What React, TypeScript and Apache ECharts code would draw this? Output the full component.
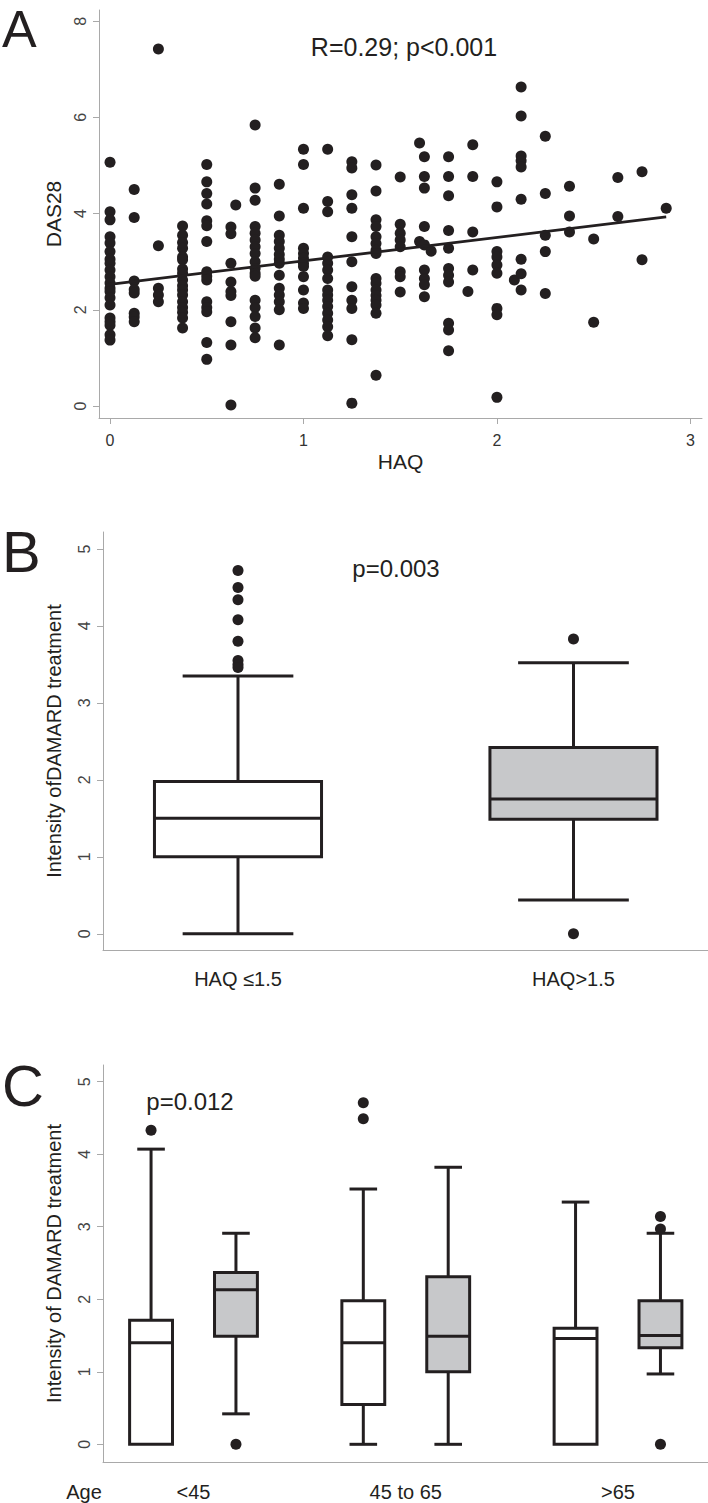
import React, { useEffect, useRef } from "react";
import * as echarts from "echarts";

const INK = "#231f20";
const AXIS_GRAY = "#a9a9a9";
const BOX_GRAY = "#c7c8ca";
const FONT = "'Liberation Sans', Arial, Helvetica, sans-serif";

// ---------- Panel A: DAS28 vs HAQ ----------
const haqColumns: number[] = [
  0, 0.125, 0.25, 0.375, 0.5, 0.625, 0.65, 0.75, 0.875, 1, 1.125, 1.25, 1.375, 1.5, 1.6,
  1.625, 1.66, 1.75, 1.85, 1.875, 2, 2.09, 2.125, 2.25, 2.375, 2.5, 2.625, 2.75, 2.875,
];
const das28Columns: number[][] = [
  [5.07, 4.04, 3.87, 3.52, 3.39, 3.21, 3.05, 2.97, 2.83, 2.69, 2.56, 2.45, 2.38, 2.25, 2.1, 1.83, 1.75, 1.68, 1.48, 1.37],
  [4.5, 3.92, 2.6, 2.42, 2.35, 1.93, 1.85, 1.75],
  [7.42, 3.33, 2.45, 2.31, 2.17],
  [3.74, 3.55, 3.4, 3.28, 3.1, 3.04, 2.85, 2.76, 2.62, 2.5, 2.41, 2.31, 2.17, 2.05, 1.95, 1.83, 1.62],
  [5.02, 4.66, 4.42, 4.2, 3.85, 3.75, 3.42, 2.79, 2.7, 2.62, 2.17, 2.05, 1.96, 1.32, 0.97],
  [3.72, 3.58, 2.97, 2.58, 2.38, 2.3, 1.75, 1.27, 0.02],
  [4.18],
  [5.84, 4.53, 4.28, 3.73, 3.59, 3.45, 3.31, 3.17, 3.0, 2.86, 2.76, 2.7, 2.2, 2.05, 1.86, 1.62, 1.42],
  [4.61, 3.95, 3.55, 3.42, 3.28, 3.15, 3.05, 2.97, 2.72, 2.45, 2.31, 2.17, 2.0, 1.27],
  [5.34, 5.02, 4.11, 3.28, 3.17, 3.07, 2.97, 2.9, 2.69, 2.41, 2.14, 2.03],
  [5.34, 4.25, 4.04, 3.1, 2.97, 2.83, 2.65, 2.41, 2.31, 2.2, 2.07, 1.93, 1.79, 1.65, 1.46],
  [5.08, 4.95, 4.39, 4.11, 3.52, 3.0, 2.48, 2.2, 2.03, 1.38, 0.06],
  [5.01, 4.47, 3.87, 3.73, 3.52, 3.38, 3.24, 3.17, 2.65, 2.55, 2.41, 2.3, 2.2, 2.1, 1.93, 0.64],
  [4.76, 3.78, 3.59, 3.45, 3.31, 2.79, 2.69, 2.37],
  [5.47, 3.42],
  [5.18, 4.77, 4.53, 3.73, 3.35, 2.83, 2.65, 2.52, 2.27],
  [3.22],
  [5.18, 4.77, 4.37, 3.65, 3.28, 2.86, 2.72, 2.58, 1.72, 1.58, 1.15],
  [2.38],
  [5.43, 4.77, 3.62, 2.83],
  [4.66, 4.14, 3.21, 3.1, 2.93, 2.76, 2.03, 1.9, 0.18],
  [2.62],
  [6.63, 6.03, 5.2, 5.1, 4.97, 4.3, 3.05, 2.75, 2.41],
  [5.61, 4.42, 3.55, 3.21, 2.34],
  [4.57, 3.95, 3.62],
  [3.47, 1.74],
  [4.75, 3.94],
  [4.87, 3.04],
  [4.11],
];
const fitLine: number[][] = [
  [0, 2.53],
  [2.875, 3.93],
];
const haqTicks = [0, 1, 2, 3];
const dasTicks = [0, 2, 4, 6, 8];
const statTextA = "R=0.29; p<0.001";

// ---------- Panel B: intensity by HAQ group ----------
const haqGroups = ["HAQ ≤1.5", "HAQ>1.5"];
// [min, Q1, median, Q3, max]
const haqBoxStats: number[][] = [
  [0, 1.0, 1.5, 1.98, 3.35],
  [0.44, 1.49, 1.75, 2.42, 3.52],
];
const haqOutliers: number[][] = [
  [4.72, 4.5, 4.34, 4.08, 3.8, 3.55, 3.5, 3.46],
  [3.83, 0],
];
const intensityTicks = [0, 1, 2, 3, 4, 5];
const statTextB = "p=0.003";

// ---------- Panel C: intensity by age group ----------
const ageGroups = ["<45", "45 to 65", ">65"];
const ageBoxLowHaq: number[][] = [
  [0, 0, 1.4, 1.71, 4.07],
  [0, 0.55, 1.4, 1.98, 3.52],
  [0, 0, 1.46, 1.6, 3.34],
];
const ageBoxHighHaq: number[][] = [
  [0.42, 1.49, 2.13, 2.37, 2.91],
  [0, 1.0, 1.49, 2.31, 3.82],
  [0.97, 1.33, 1.5, 1.98, 2.91],
];
const ageOutliersLowHaq: number[][] = [[4.33], [4.71, 4.49], []];
const ageOutliersHighHaq: number[][] = [[0], [], [3.14, 2.97, 0]];
const statTextC = "p=0.012";

function boxRenderer(halfBox: number, halfCap: number) {
  return (_params: any, api: any) => {
    const x = api.value(0);
    const mn = api.value(1);
    const q1 = api.value(2);
    const md = api.value(3);
    const q3 = api.value(4);
    const mx = api.value(5);
    const shade = api.value(6);
    const pt = (dx: number, v: number) => api.coord([x + dx, v]);
    const seg = (a: number[], b: number[]) => ({
      type: "line",
      shape: { x1: a[0], y1: a[1], x2: b[0], y2: b[1] },
      style: { stroke: INK, lineWidth: 3, fill: null },
    });
    const children: any[] = [];
    if (mx > q3) {
      children.push(seg(pt(0, q3), pt(0, mx)));
      children.push(seg(pt(-halfCap, mx), pt(halfCap, mx)));
    }
    if (mn < q1) {
      children.push(seg(pt(0, q1), pt(0, mn)));
      children.push(seg(pt(-halfCap, mn), pt(halfCap, mn)));
    }
    const tl = pt(-halfBox, q3);
    const br = pt(halfBox, q1);
    children.push({
      type: "rect",
      shape: { x: tl[0], y: tl[1], width: br[0] - tl[0], height: br[1] - tl[1] },
      style: { fill: shade ? BOX_GRAY : "#ffffff", stroke: INK, lineWidth: 3 },
    });
    children.push(seg(pt(-halfBox, md), pt(halfBox, md)));
    return { type: "group", children };
  };
}

function yAxisCommon(gridIndex: number, min: number, max: number, ticks: number[], name: string, nameGap: number, nameSize: number, labelMargin: number) {
  return {
    type: "value",
    gridIndex,
    min,
    max,
    name,
    nameLocation: "middle",
    nameGap,
    nameTextStyle: { fontSize: nameSize, fontFamily: FONT, color: INK },
    axisLine: { show: true, onZero: false, lineStyle: { color: AXIS_GRAY, width: 1 } },
    axisTick: { show: true, length: 6, customValues: ticks, lineStyle: { color: AXIS_GRAY, width: 1 } },
    axisLabel: { customValues: ticks, rotate: 90, fontSize: 16, fontFamily: FONT, color: "#444", margin: labelMargin },
    splitLine: { show: false },
  };
}

export default function App() {
  const ref = useRef<HTMLDivElement>(null);

  useEffect(() => {
    if (!ref.current) return;
    const chart = echarts.init(ref.current, null, { renderer: "svg" });

    const scatterData = haqColumns.flatMap((h, i) => das28Columns[i].map((v) => [h, v]));

    const haqBoxData = haqBoxStats.map((s, i) => [i, ...s, i]);
    const haqOutlierData = haqOutliers.flatMap((vals, i) => vals.map((v) => [i, v]));

    const AGE_OFFSET = 0.2;
    const ageBoxData = [
      ...ageBoxLowHaq.map((s, i) => [i - AGE_OFFSET, ...s, 0]),
      ...ageBoxHighHaq.map((s, i) => [i + AGE_OFFSET, ...s, 1]),
    ];
    const ageOutlierData = [
      ...ageOutliersLowHaq.flatMap((vals, i) => vals.map((v) => [i - AGE_OFFSET, v])),
      ...ageOutliersHighHaq.flatMap((vals, i) => vals.map((v) => [i + AGE_OFFSET, v])),
    ];

    const boxDims = ["x", "min", "q1", "median", "q3", "max", "shade"];

    const option: any = {
      animation: false,
      backgroundColor: "#ffffff",
      grid: [
        { left: 99, top: 10, width: 603, height: 408 },
        { left: 103, top: 532, width: 605, height: 418 },
        { left: 103, top: 1065, width: 605, height: 397 },
      ],
      xAxis: [
        {
          type: "value",
          gridIndex: 0,
          min: -0.057,
          max: 3.06,
          name: "HAQ",
          nameLocation: "middle",
          nameGap: 33,
          nameTextStyle: { fontSize: 21, fontFamily: FONT, color: INK },
          axisLine: { show: true, onZero: false, lineStyle: { color: AXIS_GRAY, width: 1 } },
          axisTick: { show: true, length: 6, customValues: haqTicks, lineStyle: { color: AXIS_GRAY, width: 1 } },
          axisLabel: { customValues: haqTicks, fontSize: 16, fontFamily: FONT, color: "#333", margin: 14 },
          splitLine: { show: false },
        },
        {
          type: "value",
          gridIndex: 1,
          min: -0.4024,
          max: 1.401,
          axisLine: { show: true, onZero: false, lineStyle: { color: AXIS_GRAY, width: 1 } },
          axisTick: { show: false },
          axisLabel: {
            customValues: haqGroups.map((_, i) => i),
            formatter: (v: number) => haqGroups[Math.round(v)] ?? "",
            fontSize: 20,
            fontFamily: FONT,
            color: INK,
            margin: 19,
          },
          splitLine: { show: false },
        },
        {
          type: "value",
          gridIndex: 2,
          min: -0.4264,
          max: 2.424,
          axisLine: { show: true, onZero: false, lineStyle: { color: AXIS_GRAY, width: 1 } },
          axisTick: { show: false },
          axisLabel: {
            customValues: ageGroups.map((_, i) => i),
            formatter: (v: number) => ageGroups[Math.round(v)] ?? "",
            fontSize: 20,
            fontFamily: FONT,
            color: INK,
            margin: 20,
          },
          splitLine: { show: false },
        },
      ],
      yAxis: [
        yAxisCommon(0, -0.249, 8.233, dasTicks, "DAS28", 34, 21, 11),
        yAxisCommon(1, -0.21, 5.22, intensityTicks, "Intensity ofDAMARD treatment", 39, 20, 11),
        yAxisCommon(2, -0.244, 5.23, intensityTicks, "Intensity of DAMARD treatment", 39, 20, 11),
      ],
      series: [
        {
          type: "scatter",
          xAxisIndex: 0,
          yAxisIndex: 0,
          data: scatterData,
          symbol: "circle",
          symbolSize: 11,
          itemStyle: { color: INK, opacity: 1 },
          z: 3,
        },
        {
          type: "line",
          xAxisIndex: 0,
          yAxisIndex: 0,
          data: fitLine,
          symbol: "none",
          lineStyle: { color: INK, width: 2.8 },
          z: 4,
        },
        {
          type: "custom",
          xAxisIndex: 1,
          yAxisIndex: 1,
          dimensions: boxDims,
          encode: { x: "x", y: ["min", "q1", "median", "q3", "max"] },
          data: haqBoxData,
          renderItem: boxRenderer(0.249, 0.165),
          clip: false,
        },
        {
          type: "scatter",
          xAxisIndex: 1,
          yAxisIndex: 1,
          data: haqOutlierData,
          symbolSize: 11,
          itemStyle: { color: INK, opacity: 1 },
        },
        {
          type: "custom",
          xAxisIndex: 2,
          yAxisIndex: 2,
          dimensions: boxDims,
          encode: { x: "x", y: ["min", "q1", "median", "q3", "max"] },
          data: ageBoxData,
          renderItem: boxRenderer(0.101, 0.065),
          clip: false,
        },
        {
          type: "scatter",
          xAxisIndex: 2,
          yAxisIndex: 2,
          data: ageOutlierData,
          symbolSize: 11,
          itemStyle: { color: INK, opacity: 1 },
        },
      ],
      graphic: [
        { type: "text", style: { text: "A", x: 2, y: 3, fontSize: 52, fontFamily: FONT, fill: INK, align: "left", verticalAlign: "top" } },
        { type: "text", style: { text: "B", x: 2, y: 551, fontSize: 58, fontFamily: FONT, fill: INK, align: "left", verticalAlign: "middle" } },
        { type: "text", style: { text: "C", x: 2, y: 1085, fontSize: 58, fontFamily: FONT, fill: INK, align: "left", verticalAlign: "middle" } },
        { type: "text", style: { text: statTextA, x: 404, y: 47, fontSize: 25, fontFamily: FONT, fill: INK, align: "center", verticalAlign: "middle" } },
        { type: "text", style: { text: statTextB, x: 396, y: 568, fontSize: 24, fontFamily: FONT, fill: INK, align: "center", verticalAlign: "middle" } },
        { type: "text", style: { text: statTextC, x: 190, y: 1101, fontSize: 24, fontFamily: FONT, fill: INK, align: "center", verticalAlign: "middle" } },
        { type: "text", style: { text: "Age", x: 84, y: 1492, fontSize: 20, fontFamily: FONT, fill: INK, align: "center", verticalAlign: "middle" } },
      ],
    };

    chart.setOption(option);
    return () => {
      chart.dispose();
    };
  }, []);

  return (
    <div
      ref={ref}
      style={{ position: "absolute", left: 0, top: 0, width: 708, height: 1503, background: "#ffffff" }}
    />
  );
}
